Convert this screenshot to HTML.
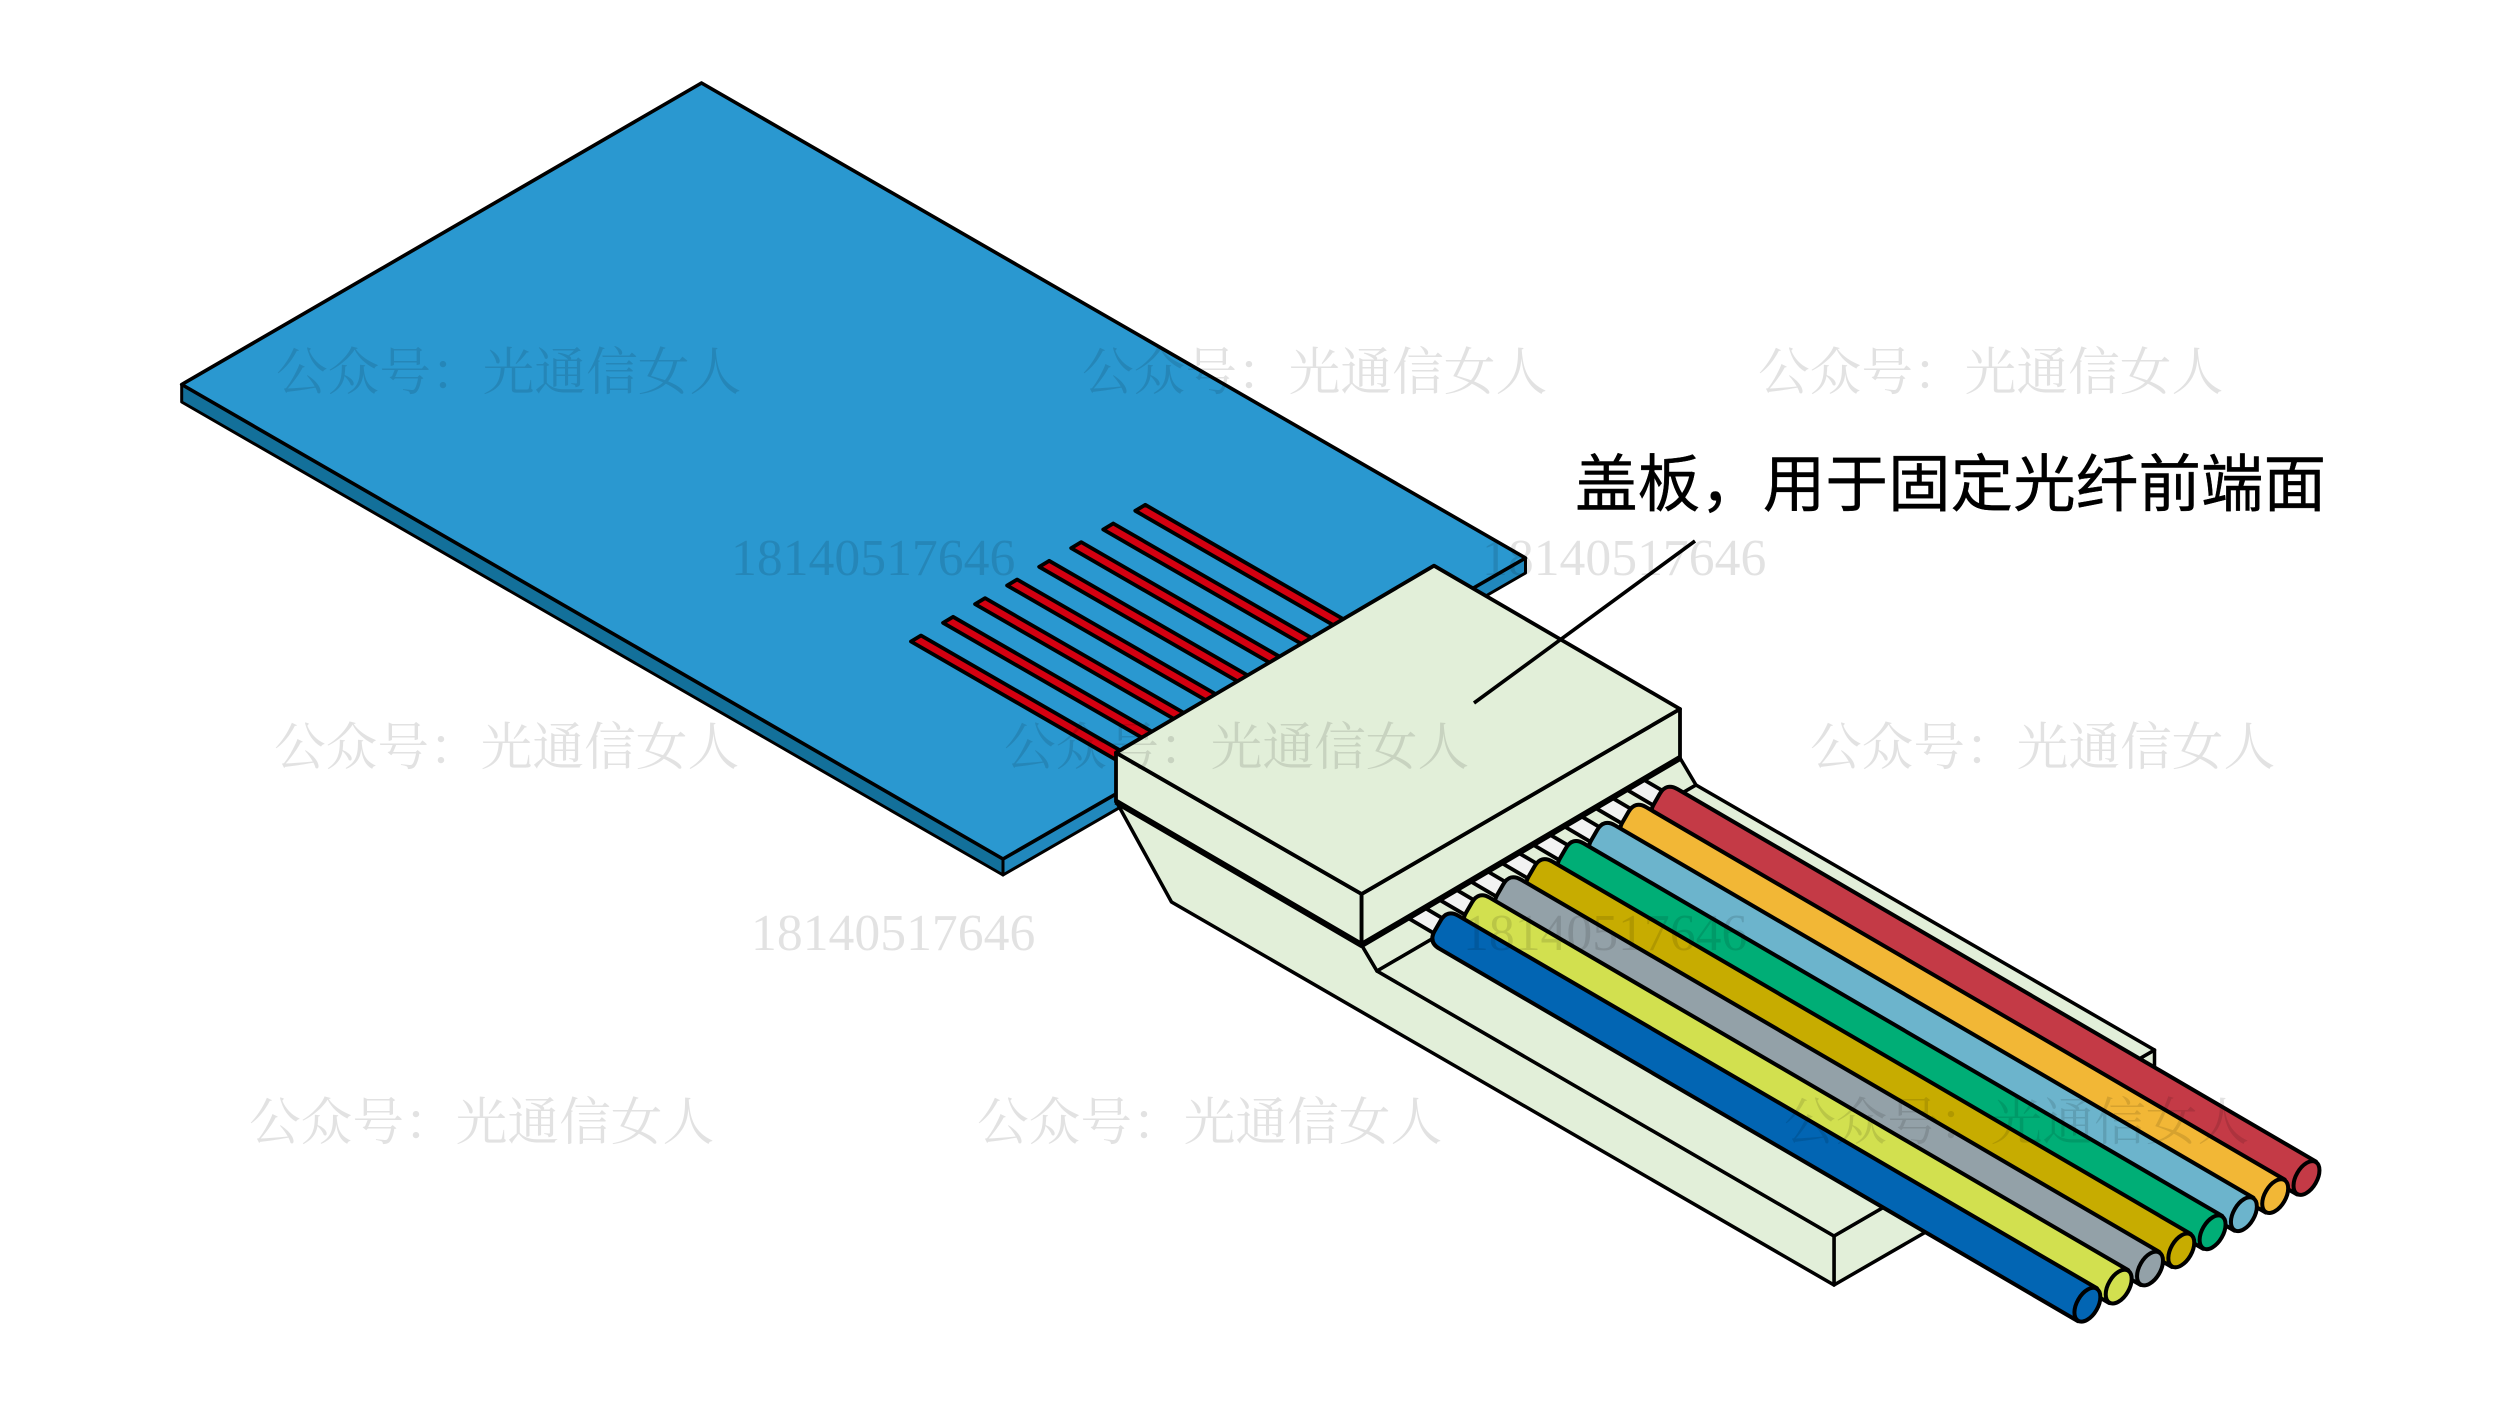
<!DOCTYPE html>
<html lang="zh">
<head>
<meta charset="utf-8">
<title>盖板</title>
<style>
html,body{margin:0;padding:0;background:#fff}
svg{display:block}
.wm{font-family:"Liberation Serif","Noto Serif CJK SC",serif;font-size:51.7px;fill:rgba(0,0,0,.115)}
.lb{font-family:"Liberation Sans","Noto Sans CJK SC",sans-serif;font-size:62.6px;fill:#000;stroke:#000;stroke-width:.4px}
</style>
</head>
<body>
<svg xmlns="http://www.w3.org/2000/svg" width="2500" height="1406" viewBox="0 0 2500 1406">
<defs>
<g id="fb">
<path d="M9.5,-16.45 L-629,-388.9 Q-640.2,-395.45 -646.7,-384.2 L-652.7,-373.8 Q-659.2,-362.55 -648,-356 L-9.5,16.45 Z"/>
<ellipse cx="0" cy="0" rx="10.5" ry="18.5" transform="rotate(30)"/>
</g>
<polygon id="st" points="921,635.5 911,641.5 1196,806 1206,800"/>
<polygon id="br" points="1408,918 1425,908 1459,928 1442,938"/>
</defs>

<!-- board -->
<g stroke="#000" stroke-width="3" stroke-linejoin="round">
<polygon points="181.7,384.5 181.7,402 1003,875 1003,859" fill="#13709a"/>
<polygon points="1003,859 1003,875 1525.5,573 1525.5,558" fill="#2188bd"/>
<polygon points="701.5,83 181.7,384.5 1003,859 1525.5,558" fill="#2a98d0" stroke-width="3.6"/>
</g>

<!-- red traces -->
<g fill="#d40010" stroke="#000" stroke-width="3.8" stroke-linejoin="round">
<use href="#st"/>
<use href="#st" transform="translate(32.04,-18.67)"/>
<use href="#st" transform="translate(64.08,-37.34)"/>
<use href="#st" transform="translate(96.12,-56.01)"/>
<use href="#st" transform="translate(128.16,-74.68)"/>
<use href="#st" transform="translate(160.2,-93.35)"/>
<use href="#st" transform="translate(192.24,-112.02)"/>
<use href="#st" transform="translate(224.28,-130.69)"/>
</g>

<!-- lower base -->
<g fill="#e2efd9" stroke="#000" stroke-width="3.5" stroke-linejoin="round">
<polygon points="1834,1236 2154.5,1050 2154.5,1100 1834,1285"/>
<polygon points="1116,801 1171.5,902 1834,1285 1834,1236 1377,971 1361.6,945"/>
<polygon points="1361.6,945 1377,971 1696,785 1680,758"/>
<polygon points="1377,971 1696,785 2154.5,1050 1834,1236"/>
</g>

<!-- bare fibres -->
<g fill="#f2f2f2" stroke="#000" stroke-width="3.8">
<use href="#br"/>
<use href="#br" transform="translate(31.3,-18.3)"/>
<use href="#br" transform="translate(62.6,-36.6)"/>
<use href="#br" transform="translate(93.9,-54.9)"/>
<use href="#br" transform="translate(125.2,-73.2)"/>
<use href="#br" transform="translate(156.5,-91.5)"/>
<use href="#br" transform="translate(187.8,-109.8)"/>
<use href="#br" transform="translate(219.1,-128.1)"/>
</g>

<!-- coloured fibres -->
<g stroke="#000" stroke-width="4" stroke-linejoin="round">
<use href="#fb" fill="#c43a46" transform="translate(2306.5,1178)"/>
<use href="#fb" fill="#f2b736" transform="translate(2275.2,1196.1)"/>
<use href="#fb" fill="#6cb4cc" transform="translate(2243.9,1214.2)"/>
<use href="#fb" fill="#00ae76" transform="translate(2212.6,1232.3)"/>
<use href="#fb" fill="#c7ac00" transform="translate(2181.3,1250.4)"/>
<use href="#fb" fill="#93a1a8" transform="translate(2150,1268.5)"/>
<use href="#fb" fill="#d2e04f" transform="translate(2118.7,1286.6)"/>
<use href="#fb" fill="#0265b3" transform="translate(2087.4,1304.7)"/>
</g>

<!-- cover -->
<g fill="#e2efd9" stroke="#000" stroke-width="3.8" stroke-linejoin="round">
<polygon points="1116,752.7 1116,801.7 1361.6,945 1361.6,894"/>
<polygon points="1361.6,894 1361.6,945 1680,758 1680,709"/>
<polygon points="1434,565.7 1116,752.7 1361.6,894 1680,709"/>
</g>
<path d="M1116,801.7 L1361.6,945 L1680,758" fill="none" stroke="#000" stroke-width="6" stroke-linejoin="round"/>

<!-- leader -->
<line x1="1695" y1="541" x2="1474" y2="703" stroke="#000" stroke-width="3.6"/>

<!-- label -->
<text class="lb" x="1575" y="506">盖板，用于固定光纤前端面</text>

<!-- watermarks -->
<g class="wm">
<text x="276" y="390">公众号：光通信女人</text>
<text x="1082" y="390">公众号：光通信女人</text>
<text x="1758" y="390">公众号：光通信女人</text>
<text x="274" y="765">公众号：光通信女人</text>
<text x="1004" y="765">公众号：光通信女人</text>
<text x="1810" y="765">公众号：光通信女人</text>
<text x="249" y="1140">公众号：光通信女人</text>
<text x="977" y="1140">公众号：光通信女人</text>
<text x="1784" y="1140">公众号：光通信女人</text>
<text x="731" y="575">18140517646</text>
<text x="1482" y="575">18140517646</text>
<text x="751" y="950">18140517646</text>
<text x="1463" y="950">18140517646</text>
</g>
</svg>
</body>
</html>
